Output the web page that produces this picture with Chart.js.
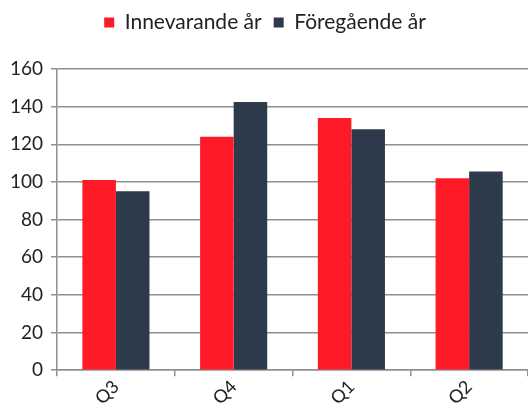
<!DOCTYPE html>
<html>
<head>
<meta charset="utf-8">
<script src="https://cdn.jsdelivr.net/npm/chart.js@4.4.1/dist/chart.umd.min.js"></script>
<style>
 html,body{margin:0;padding:0;background:#fff;}
 #wrap{width:528px;height:412px;position:relative;}
</style>
</head>
<body>
<div id="wrap"><canvas id="chart"></canvas></div>
<script>
/* ---------------- data ---------------- */
const QUARTERS=["Q3","Q4","Q1","Q2"];
const CURRENT=[101,124,134,102];
const PREVIOUS=[95,142.5,128,105.5];
const Y_TICKS=[0,20,40,60,80,100,120,140,160];

const FONT="'Lato','DejaVu Sans',sans-serif";
const GRID="#8f8f8f";

/* extra room under the legend */
const LEGEND_GAP=26;
const legendGap={id:"legendGap",beforeInit(chart){
 const fit=chart.legend.fit;
 chart.legend.fit=function(){fit.bind(chart.legend)();this.height+=LEGEND_GAP;};
}};

new Chart(document.getElementById("chart"),{
 type:"bar",
 data:{labels:QUARTERS,datasets:[
  {label:"Innevarande år",data:CURRENT,backgroundColor:"#ff1a27",borderWidth:0},
  {label:"Föregående år",data:PREVIOUS,backgroundColor:"#2d3a4b",borderWidth:0}
 ]},
 options:{
  responsive:true,maintainAspectRatio:false,animation:false,
  categoryPercentage:0.57,barPercentage:1,
  layout:{padding:{top:0,right:0,left:2,bottom:3}},
  plugins:{
   legend:{position:"top",labels:{color:"#222",font:{family:FONT,size:21},boxWidth:10,boxHeight:10,padding:12}},
   tooltip:{enabled:false}
  },
  scales:{
   x:{
    grid:{drawOnChartArea:false,drawTicks:true,tickLength:6,color:GRID,lineWidth:1.5},
    border:{color:GRID,width:1.5},
    ticks:{color:"#222",font:{family:FONT,size:18},minRotation:45,maxRotation:45,padding:0}
   },
   y:{
    min:0,max:160,
    afterBuildTicks:ax=>{ax.ticks=Y_TICKS.map(v=>({value:v}));},
    grid:{color:GRID,lineWidth:1.5,tickLength:6},
    border:{color:GRID,width:1.5},
    ticks:{color:"#222",font:{family:FONT,size:19},padding:8}
   }
  }
 },
 plugins:[legendGap]
});
</script>
</body>
</html>
